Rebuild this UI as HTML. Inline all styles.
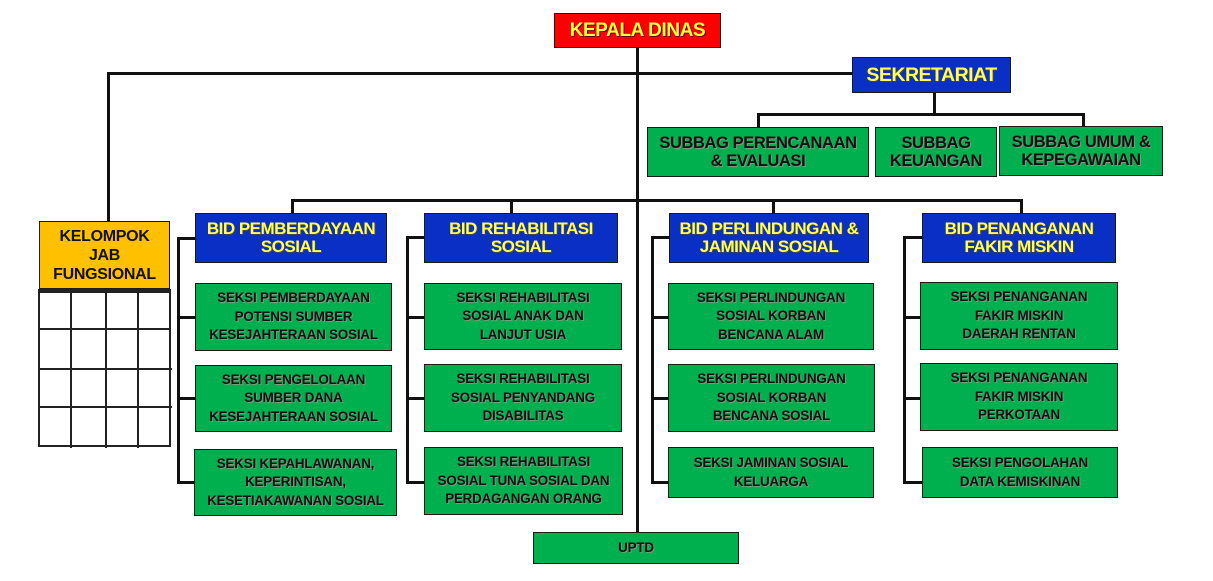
<!DOCTYPE html>
<html><head><meta charset="utf-8"><style>
body{margin:0;background:#fff;width:1213px;height:581px;position:relative;overflow:hidden;font-family:"Liberation Sans",Arial,sans-serif;font-weight:bold}
.b{position:absolute;box-sizing:border-box;border:1.5px solid #1a1a1a;display:flex;align-items:center;justify-content:center;text-align:center}
.g{background:#00b04f;color:#111;font-size:13.4px;line-height:18.5px;text-shadow:1px 1px 0 #7a9a80;letter-spacing:-0.2px}
.bl{background:#0a2fc4;color:#ffff55;font-size:17px;line-height:18px;text-shadow:1px 1px 0 #444;letter-spacing:-0.5px}
.sg{font-size:16.5px;line-height:18px;letter-spacing:-0.4px}
.l{position:absolute;background:#111}
.h{height:3px}.v{width:3px}
</style></head><body>
<div class="l v" style="left:636px;top:48px;height:484px"></div>
<div class="l h" style="left:107px;top:72px;width:746px"></div>
<div class="l v" style="left:107px;top:72px;height:150px"></div>
<div class="l v" style="left:933px;top:92px;height:23px"></div>
<div class="l h" style="left:757px;top:113px;width:327px"></div>
<div class="l v" style="left:757px;top:113px;height:14px"></div>
<div class="l v" style="left:1082px;top:113px;height:14px"></div>
<div class="l h" style="left:291px;top:199px;width:731px"></div>
<div class="l v" style="left:291px;top:199px;height:14px"></div>
<div class="l v" style="left:510px;top:199px;height:14px"></div>
<div class="l v" style="left:772px;top:199px;height:14px"></div>
<div class="l v" style="left:1020px;top:199px;height:14px"></div>
<div class="l h" style="left:177px;top:237px;width:18px"></div>
<div class="l v" style="left:177px;top:237px;height:247px"></div>
<div class="l h" style="left:177px;top:316px;width:18px"></div>
<div class="l h" style="left:177px;top:397px;width:18px"></div>
<div class="l h" style="left:177px;top:481px;width:18px"></div>
<div class="l h" style="left:406px;top:236px;width:19px"></div>
<div class="l v" style="left:406px;top:236px;height:248px"></div>
<div class="l h" style="left:406px;top:316px;width:19px"></div>
<div class="l h" style="left:406px;top:397px;width:19px"></div>
<div class="l h" style="left:406px;top:481px;width:19px"></div>
<div class="l h" style="left:651px;top:236px;width:18px"></div>
<div class="l v" style="left:651px;top:236px;height:248px"></div>
<div class="l h" style="left:651px;top:316px;width:18px"></div>
<div class="l h" style="left:651px;top:397px;width:18px"></div>
<div class="l h" style="left:651px;top:481px;width:18px"></div>
<div class="l h" style="left:903px;top:236px;width:19px"></div>
<div class="l v" style="left:903px;top:236px;height:248px"></div>
<div class="l h" style="left:903px;top:316px;width:19px"></div>
<div class="l h" style="left:903px;top:397px;width:19px"></div>
<div class="l h" style="left:903px;top:481px;width:19px"></div>
<div class="b" style="left:554px;top:13px;width:167px;height:35px;background:#f00;color:#ffff44;font-size:19px;letter-spacing:-0.4px;text-shadow:1px 1px 0 #600">KEPALA DINAS</div>
<div class="b bl" style="left:852px;top:57px;width:159px;height:36px;font-size:19.5px">SEKRETARIAT</div>
<div class="b g sg" style="left:647px;top:127px;width:222px;height:50px">SUBBAG PERENCANAAN<br>&amp; EVALUASI</div>
<div class="b g sg" style="left:875px;top:127px;width:122px;height:50px">SUBBAG<br>KEUANGAN</div>
<div class="b g sg" style="left:999px;top:126px;width:164px;height:50px">SUBBAG UMUM &amp;<br>KEPEGAWAIAN</div>
<div class="b" style="left:39px;top:221px;width:131px;height:68px;background:#ffc000;color:#111;font-size:16px;line-height:19px;letter-spacing:-0.3px">KELOMPOK<br>JAB<br>FUNGSIONAL</div>
<svg style="position:absolute;left:38px;top:288px" width="134" height="162">
<g stroke="#222" stroke-width="2" fill="none">
<rect x="1" y="2" width="131" height="156"/>
<line x1="1" y1="4" x2="132" y2="4"/>
<line x1="33" y1="2" x2="33" y2="160"/><line x1="68" y1="2" x2="68" y2="160"/><line x1="100" y1="2" x2="100" y2="160"/>
<line x1="1" y1="41" x2="132" y2="41"/><line x1="1" y1="81" x2="134" y2="81"/><line x1="1" y1="119" x2="134" y2="119"/>
</g></svg>
<div class="b bl" style="left:195px;top:213px;width:192px;height:50px">BID PEMBERDAYAAN<br>SOSIAL</div>
<div class="b bl" style="left:424px;top:213px;width:194px;height:50px">BID REHABILITASI<br>SOSIAL</div>
<div class="b bl" style="left:669px;top:213px;width:200px;height:50px">BID PERLINDUNGAN &amp;<br>JAMINAN SOSIAL</div>
<div class="b bl" style="left:922px;top:213px;width:194px;height:50px">BID PENANGANAN<br>FAKIR MISKIN</div>
<div class="b g" style="left:195px;top:283px;width:197px;height:68px">SEKSI PEMBERDAYAAN<br>POTENSI SUMBER<br>KESEJAHTERAAN SOSIAL</div>
<div class="b g" style="left:195px;top:365px;width:197px;height:67px">SEKSI PENGELOLAAN<br>SUMBER DANA<br>KESEJAHTERAAN SOSIAL</div>
<div class="b g" style="left:194px;top:449px;width:203px;height:67px">SEKSI KEPAHLAWANAN,<br>KEPERINTISAN,<br>KESETIAKAWANAN SOSIAL</div>
<div class="b g" style="left:424px;top:283px;width:198px;height:67px">SEKSI REHABILITASI<br>SOSIAL ANAK DAN<br>LANJUT USIA</div>
<div class="b g" style="left:424px;top:364px;width:198px;height:68px">SEKSI REHABILITASI<br>SOSIAL PENYANDANG<br>DISABILITAS</div>
<div class="b g" style="left:424px;top:447px;width:199px;height:68px">SEKSI REHABILITASI<br>SOSIAL TUNA SOSIAL DAN<br>PERDAGANGAN ORANG</div>
<div class="b g" style="left:668px;top:283px;width:206px;height:67px">SEKSI PERLINDUNGAN<br>SOSIAL KORBAN<br>BENCANA ALAM</div>
<div class="b g" style="left:668px;top:364px;width:207px;height:68px">SEKSI PERLINDUNGAN<br>SOSIAL KORBAN<br>BENCANA SOSIAL</div>
<div class="b g" style="left:668px;top:447px;width:206px;height:51px">SEKSI JAMINAN SOSIAL<br>KELUARGA</div>
<div class="b g" style="left:920px;top:282px;width:198px;height:68px">SEKSI PENANGANAN<br>FAKIR MISKIN<br>DAERAH RENTAN</div>
<div class="b g" style="left:920px;top:363px;width:198px;height:68px">SEKSI PENANGANAN<br>FAKIR MISKIN<br>PERKOTAAN</div>
<div class="b g" style="left:922px;top:447px;width:196px;height:51px">SEKSI PENGOLAHAN<br>DATA KEMISKINAN</div>
<div class="b g" style="left:533px;top:532px;width:206px;height:32px">UPTD</div>
</body></html>
